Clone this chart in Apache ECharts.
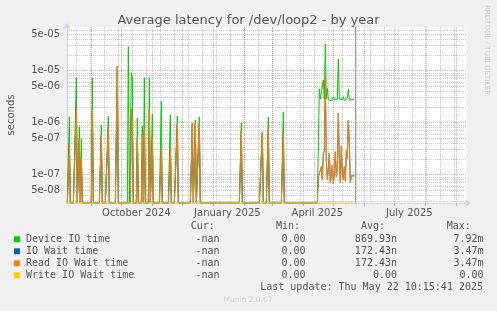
<!DOCTYPE html>
<html>
<head>
<meta charset="utf-8">
<script src="https://cdn.jsdelivr.net/npm/echarts@6/dist/echarts.min.js"></script>
<style>
  html, body { margin: 0; padding: 0; background: #f0f0f0; }
  #chart { width: 497px; height: 311px; }
</style>
</head>
<body>
<div id="chart"></div>
<script>
// single-day spikes before the disk became busy (zero on every other day)
const spikeDays = ['2024-08-10', '2024-08-17', '2024-08-20', '2024-08-22', '2024-09-02', '2024-09-11',
  '2024-09-18', '2024-09-27', '2024-10-08', '2024-10-11', '2024-10-12', '2024-10-17', '2024-10-22',
  '2024-10-24', '2024-10-29', '2024-11-01', '2024-11-10', '2024-11-19', '2024-11-26', '2024-12-11',
  '2024-12-14', '2024-12-18', '2025-01-29', '2025-02-19', '2025-02-25', '2025-03-12'];
const deviceSpikes = [1.28e-6, 7.2e-6, 8.2e-7, 4.8e-7, 7.2e-6, 8.9e-7, 1.3e-6, 1.0e-5, 2.85e-5, 9.0e-6,
  7.5e-6, 1.2e-6, 8.5e-7, 7.2e-6, 7.2e-6, 1.45e-6, 2.5e-6, 1.38e-6, 1.32e-6, 9.0e-7, 1.1e-6, 1.27e-6,
  9.7e-7, 6.0e-7, 1.27e-6, 1.58e-6];
const readSpikes = [3.8e-7, 1.86e-6, 4.9e-7, 2.0e-7, 1.8e-6, 5.7e-7, 8.0e-7, 1.2e-5, 0, 1.8e-6,
  1.2e-6, 4.9e-7, 5.7e-7, 7.0e-7, 1.8e-6, 5.0e-7, 3.1e-7, 3.3e-7, 9.0e-7, 9.7e-7, 9.5e-7, 9.5e-7,
  7.0e-7, 6.5e-7, 8.0e-7, 6.0e-7];

// daily values from activeStart on
const activeStart = '2025-04-15';
const deviceActive = [
  0, 3.5e-7, 4.4e-6, 2.8e-6, 2.9e-6, 2.7e-6, 6.5e-6, 2.8e-6, 3.2e-5, 2.8e-6,
  4.5e-6, 2.7e-6, 2.8e-6, 2.9e-6, 2.6e-6, 2.8e-6, 3.1e-6, 2.7e-6, 2.8e-6, 2.7e-6,
  2.8e-6, 1.63e-5, 2.8e-6, 2.7e-6, 2.9e-6, 2.7e-6, 3.1e-6, 2.6e-6, 2.8e-6, 2.7e-6,
  2.9e-6, 4.3e-6, 2.7e-6, 2.6e-6, 2.8e-6, 2.7e-6, 2.8e-6, 2.8e-6];
const readActive = [
  0, 9e-8, 8.5e-8, 1.2e-7, 1.4e-7, 8e-8, 2.5e-7, 2.8e-7, 7.2e-6, 1.8e-7,
  8e-8, 1.3e-7, 2.5e-7, 7e-8, 1.0e-7, 1.5e-7, 6.5e-8, 1.1e-7, 2.7e-7, 9e-8,
  1.3e-7, 1.5e-6, 1.8e-7, 7e-8, 3.5e-7, 1.0e-7, 8e-8, 1.4e-7, 7.5e-8, 2.9e-7,
  2.0e-7, 1.1e-6, 4e-7, 7e-8, 9.3e-8, 9.3e-8, 9.3e-8, 9.3e-8];

const firstDay = '2024-08-08';
const lastDay = '2025-05-22';
const lastUpdate = '2025-05-22T10:15:41Z';

const axisStart = '2024-08-07T16:00:00Z';
const axisEnd = '2025-09-11T16:00:00Z';
const yMin = 2.8e-8;
const yMax = 6.8e-5;
const yTicks = [5e-8, 1e-7, 5e-7, 1e-6, 5e-6, 1e-5, 5e-5];
const xLabelDays = ['2024-10-16', '2025-01-15', '2025-04-15', '2025-07-16'];
const monthNames = ['January', 'February', 'March', 'April', 'May', 'June', 'July',
  'August', 'September', 'October', 'November', 'December'];

const legendNames = ['Device IO time', 'IO Wait time', 'Read IO Wait time', 'Write IO Wait time'];
const legendColors = ['#00cc00', '#0066b3', '#ff8000', '#ffcc00'];
const curValues = ['-nan', '-nan', '-nan', '-nan'];
const minValues = ['0.00', '0.00', '0.00', '0.00'];
const avgValues = ['869.93n', '172.43n', '172.43n', '0.00'];
const maxValues = ['7.92m', '3.47m', '3.47m', '0.00'];

const DAY = 864e5;
const TEXT = '#555';

// zero is drawn on the bottom edge, like rrdtool does on a log scale
function buildSeries(spikes, active) {
  const out = [];
  const a0 = Date.parse(activeStart);
  for (let t = Date.parse(firstDay); t <= Date.parse(lastDay); t += DAY) {
    let v = 0;
    const si = spikeDays.indexOf(new Date(t).toISOString().slice(0, 10));
    if (si >= 0) v = spikes[si];
    const ai = Math.round((t - a0) / DAY);
    if (ai >= 0 && ai < active.length) v = active[ai];
    out.push([t, Math.max(v, yMin)]);
  }
  return out;
}

function fmtExp(v) {
  const parts = Number(v).toExponential(0).split('e');
  const n = parseInt(parts[1], 10);
  return parts[0] + 'e' + (n < 0 ? '-' : '+') + String(Math.abs(n)).padStart(2, '0');
}

// background grid rows: [x, y, kind, vertical]  kind 0 = grey, 1 = red, 2 = "now" rule
const xMin = Date.parse(axisStart);
const xMax = Date.parse(axisEnd);
const monthStarts = [];
for (let i = 0; i < 14; i++) {
  const t = Date.UTC(2024, 7 + i, 1);
  if (t > xMin && t < xMax) monthStarts.push(t);
}
const gridRows = [];
for (let t = Date.UTC(2024, 7, 17); t < xMax; t += 14 * DAY) gridRows.push([t, yMin, 0, 1]);
for (let e = -8; e <= -5; e++) {
  for (let k = 2; k <= 9; k++) {
    const v = k * Math.pow(10, e);
    if (k !== 5 && v > yMin && v < yMax) gridRows.push([xMin, v, 0, 0]);
  }
}
monthStarts.forEach(t => gridRows.push([t, yMin, 1, 1]));
for (let e = -8; e <= -5; e++) {
  [1, 5].forEach(k => {
    const v = k * Math.pow(10, e);
    if (v > yMin && v < yMax) gridRows.push([xMin, v, 1, 0]);
  });
}
gridRows.push([Date.parse(lastUpdate), yMin, 2, 1]);

const gridStroke = ['rgba(128,128,128,0.4)', 'rgba(225,40,40,0.38)', '#9a9a9a'];

function renderGrid(params, api) {
  const kind = api.value(2);
  let a, b;
  if (api.value(3)) {
    a = api.coord([api.value(0), yMax]);
    b = api.coord([api.value(0), yMin]);
    a[0] = b[0] = Math.round(a[0]) + 0.5;
  } else {
    a = api.coord([xMin, api.value(1)]);
    b = api.coord([xMax, api.value(1)]);
    a[1] = b[1] = Math.round(a[1]) + 0.5;
  }
  return {
    type: 'line',
    shape: { x1: a[0], y1: a[1], x2: b[0], y2: b[1] },
    style: { stroke: gridStroke[kind], lineWidth: 1, lineDash: kind === 2 ? null : [1, 1] },
    silent: true
  };
}

const seriesValues = [
  buildSeries(deviceSpikes, deviceActive),
  buildSeries(readSpikes, readActive),
  buildSeries(readSpikes, readActive),
  buildSeries(spikeDays.map(() => 0), deviceActive.map(() => 0))
];

// legend table under the plot
const mono = { fontFamily: 'DejaVu Sans Mono', fontSize: 10, fill: TEXT };
const legendGraphics = [];
[['Cur:', 190.7], ['Min:', 276], ['Avg:', 361], ['Max:', 446.7]].forEach(h => {
  legendGraphics.push({ type: 'text', x: h[1], y: 226, style: Object.assign({ text: h[0], verticalAlign: 'middle' }, mono) });
});
legendNames.forEach((name, i) => {
  const y = 239.3 + i * 12;
  legendGraphics.push({ type: 'rect', shape: { x: 14, y: y - 3, width: 6, height: 6 }, style: { fill: legendColors[i] } });
  legendGraphics.push({ type: 'text', x: 26, y: y, style: Object.assign({ text: name, verticalAlign: 'middle' }, mono) });
  [[curValues, 219.5], [minValues, 305.5], [avgValues, 397], [maxValues, 483.5]].forEach(c => {
    legendGraphics.push({ type: 'text', x: c[1], y: y, style: Object.assign({ text: c[0][i], align: 'right', verticalAlign: 'middle' }, mono) });
  });
});
legendGraphics.push({ type: 'text', x: 483, y: 287.3,
  style: Object.assign({ text: 'Last update: Thu May 22 10:15:41 2025', align: 'right', verticalAlign: 'middle' }, mono) });
legendGraphics.push({ type: 'text', x: 248, y: 300,
  style: { text: 'Munin 2.0.67', align: 'center', verticalAlign: 'middle', fontFamily: 'DejaVu Sans', fontSize: 7.5, fill: '#cfcfcf' } });
legendGraphics.push({ type: 'text', x: 487, y: 5, rotation: -Math.PI / 2,
  style: { text: 'RRDTOOL / TOBI OETIKER', align: 'left', verticalAlign: 'middle', fontFamily: 'DejaVu Sans', fontSize: 7, fill: '#cccccc' } });

const axisLineColor = '#c9d2ee';

const chart = echarts.init(document.getElementById('chart'), null, { renderer: 'canvas' });
chart.setOption({
  animation: false,
  backgroundColor: '#f0f0f0',
  textStyle: { fontFamily: 'DejaVu Sans' },
  title: {
    text: 'Average latency for /dev/loop2 - by year',
    left: 'center',
    top: 9,
    textStyle: { color: TEXT, fontSize: 13, fontWeight: 'normal', fontFamily: 'DejaVu Sans' }
  },
  grid: {
    left: 67, top: 27, width: 400, height: 176,
    containLabel: false, outerBoundsMode: 'none',
    show: true, backgroundColor: '#fff', borderWidth: 0
  },
  xAxis: {
    type: 'value',
    min: xMin,
    max: xMax,
    splitLine: { show: false },
    axisLine: {
      show: true,
      lineStyle: { color: axisLineColor, width: 1 },
      symbol: ['none', 'arrow'],
      symbolSize: [6, 6],
      symbolOffset: [0, 4]
    },
    axisTick: { show: true, customValues: monthStarts, length: 3, lineStyle: { color: 'rgba(230,60,60,0.5)' } },
    axisLabel: {
      customValues: xLabelDays.map(d => Date.parse(d)),
      formatter: v => { const d = new Date(v); return monthNames[d.getUTCMonth()] + ' ' + d.getUTCFullYear(); },
      color: TEXT, fontSize: 10, fontFamily: 'DejaVu Sans', margin: 5, hideOverlap: false
    }
  },
  yAxis: {
    type: 'log',
    logBase: 10,
    min: yMin,
    max: yMax,
    name: 'seconds',
    nameLocation: 'middle',
    nameGap: 51,
    nameTextStyle: { color: TEXT, fontSize: 10, fontFamily: 'DejaVu Sans' },
    splitLine: { show: false },
    axisTick: { show: false },
    axisLine: {
      show: true,
      lineStyle: { color: axisLineColor, width: 1 },
      symbol: ['none', 'arrow'],
      symbolSize: [6, 6],
      symbolOffset: [0, 4]
    },
    axisLabel: {
      customValues: yTicks,
      formatter: fmtExp,
      color: TEXT, fontSize: 10, fontFamily: 'DejaVu Sans', margin: 7
    }
  },
  graphic: legendGraphics,
  series: [
    {
      type: 'custom',
      data: gridRows,
      encode: { x: 0, y: 1 },
      renderItem: renderGrid,
      silent: true,
      clip: false,
      z: 1
    }
  ].concat(legendNames.map((name, i) => ({
    name: name,
    type: 'line',
    data: seriesValues[i],
    showSymbol: false,
    symbol: 'none',
    clip: true,
    z: 3,
    lineStyle: { width: 1, color: legendColors[i] },
    itemStyle: { color: legendColors[i] }
  })))
});
</script>
</body>
</html>
